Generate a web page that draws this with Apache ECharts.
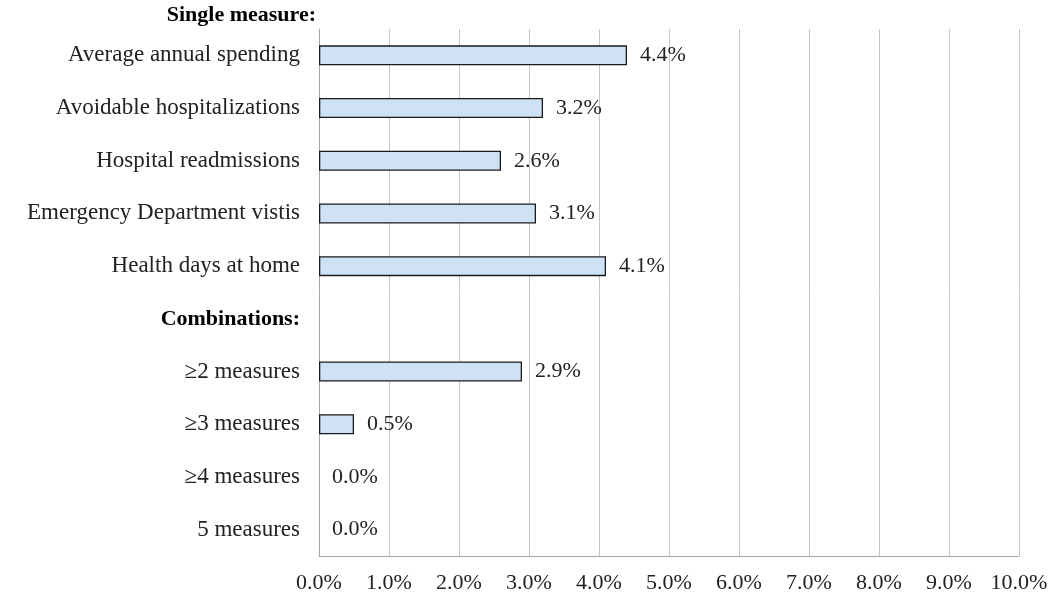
<!DOCTYPE html>
<html><head><meta charset="utf-8">
<script src="https://cdn.jsdelivr.net/npm/echarts@6/dist/echarts.min.js"></script>
<style>html,body{margin:0;padding:0;background:#fff}#c{width:1054px;height:596px}</style>
</head><body><div id="c"></div>
<script>
const groupHeader = 'Single measure:';
const categories = ['Average annual spending','Avoidable hospitalizations','Hospital readmissions','Emergency Department vistis','Health days at home','Combinations:','\u22652 measures','\u22653 measures','\u22654 measures','5 measures'];
const values = [4.4, 3.2, 2.6, 3.1, 4.1, null, 2.9, 0.5, 0.0, 0.0];
const tickMin = 0, tickMax = 10, tickStep = 1;
const headerRows = ['Combinations:'];

const FONT = '"Liberation Serif", "Times New Roman", serif';
const chart = echarts.init(document.getElementById('c'));
chart.setOption({
  animation: false,
  grid: {left: 319, right: 35, top: 29, bottom: 40, containLabel: false},
  graphic: [{
    type: 'text', right: 1054 - 316, top: 4,
    style: {text: groupHeader, font: 'bold 22px ' + FONT, fill: '#000', textAlign: 'right'}
  }],
  xAxis: {
    type: 'value', min: tickMin, max: tickMax, interval: tickStep,
    axisLine: {show: true, lineStyle: {color: '#a6a6a6', width: 1}},
    axisTick: {show: false},
    splitLine: {show: true, lineStyle: {color: '#c6c6c6', width: 1}},
    axisLabel: {formatter: v => v.toFixed(1) + '%', fontFamily: FONT, fontSize: 22, color: '#222', margin: 16}
  },
  yAxis: {
    type: 'category', data: categories, inverse: true,
    axisLine: {show: true, lineStyle: {color: '#a6a6a6', width: 1}},
    axisTick: {show: false},
    axisLabel: {
      margin: 19, fontFamily: FONT, fontSize: 23, color: '#222',
      formatter: v => headerRows.includes(v) ? '{b|' + v + '}' : v,
      rich: {b: {fontWeight: 'bold', fontFamily: FONT, fontSize: 22, color: '#000'}}
    }
  },
  series: [{
    type: 'bar',
    data: values.map(v => v === null ? '-' : (v === 0 ? {value: v, itemStyle: {borderWidth: 0}} : v)),
    barWidth: 20,
    itemStyle: {color: '#cfe2f5', borderColor: '#1a1a1a', borderWidth: 1.3},
    label: {show: true, position: 'right', distance: 13, formatter: p => p.value.toFixed(1) + '%',
      fontFamily: FONT, fontSize: 22, color: '#222'}
  }]
});
</script></body></html>
